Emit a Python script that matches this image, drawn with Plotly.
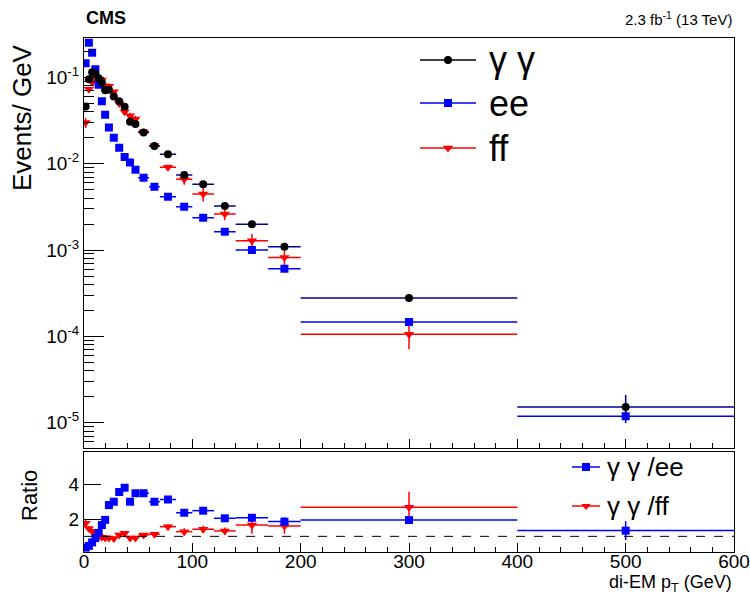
import plotly.graph_objects as go

# ---------------- data ----------------
edges = [0, 3, 6, 9, 12, 15, 18, 21, 25, 30, 35, 40, 45, 50, 60, 70, 85, 100,
         120, 140, 170, 200, 400, 600]

gg = [0.046, 0.095, 0.115, 0.110, 0.098, 0.087, 0.071, 0.072, 0.060, 0.053,
      0.0457, 0.0307, 0.0288, 0.0230, 0.0160, 0.0129, 0.0074, 0.00577,
      0.00324, 0.00199, 0.00109, 0.000278, 0.0000152]
gg_err_up = [0.001, 0.0015, 0.0015, 0.0015, 0.0015, 0.0013, 0.0012, 0.001,
             0.0009, 0.0008, 0.0008, 0.0006, 0.0006, 0.0004, 0.0003, 0.0005,
             0.0004, 0.0003, 0.00018, 0.00012, 0.00009, 0.00002, 0.0000057]
gg_err_dn = [0.001, 0.0015, 0.0015, 0.0015, 0.0015, 0.0013, 0.0012, 0.001,
             0.0009, 0.0008, 0.0008, 0.0006, 0.0006, 0.0004, 0.0003, 0.0005,
             0.0004, 0.0003, 0.00018, 0.00012, 0.00009, 0.00002, 0.0000045]

ee = [0.146, 0.252, 0.193, 0.124, 0.082, 0.053, 0.037, 0.0263, 0.0200,
      0.0153, 0.0120, 0.0103, 0.0085, 0.0069, 0.0054, 0.00415, 0.00318,
      0.00237, 0.00163, 0.00100, 0.000607, 0.000147, 0.0000119]
ee_err = [0.001, 0.001, 0.001, 0.0008, 0.0006, 0.0004, 0.0003, 0.0002,
          0.00015, 0.0001, 0.0001, 0.0001, 0.0001, 0.00006, 0.00005, 0.00004,
          0.00004, 0.00003, 0.00003, 0.00002, 0.00002, 0.000004, 0.000002]

ff = [0.030, 0.0727, 0.088, 0.092, 0.095, 0.093, 0.080, 0.079, 0.068, 0.050,
      0.040, 0.036, 0.033, 0.0235, 0.0162, 0.00908, 0.00659, 0.00446,
      0.00261, 0.00128, 0.00082, 0.000106, None]
ff_err_up = [0.004, 0.005, 0.005, 0.005, 0.005, 0.005, 0.004, 0.004, 0.003,
             0.003, 0.003, 0.003, 0.003, 0.002, 0.0015, 0.0008, 0.0009,
             0.0008, 0.0004, 0.00025, 0.00016, 0.000041, 0]
ff_err_dn = [0.004, 0.005, 0.005, 0.005, 0.005, 0.005, 0.004, 0.004, 0.003,
             0.003, 0.003, 0.003, 0.003, 0.002, 0.0015, 0.0008, 0.0009,
             0.0008, 0.0004, 0.00025, 0.00016, 0.000035, 0]

ratio_ee = [0.35, 0.45, 0.65, 0.90, 1.20, 1.65, 1.95, 2.80, 3.00, 3.55, 3.80,
            3.00, 3.48, 3.48, 3.00, 3.13, 2.36, 2.48, 2.04, 2.07, 1.85, 1.94,
            1.33]
ratio_ee_err = [0.02, 0.02, 0.03, 0.04, 0.05, 0.06, 0.07, 0.09, 0.1, 0.1, 0.1,
                0.1, 0.1, 0.1, 0.1, 0.1, 0.1, 0.12, 0.15, 0.2, 0.25, 0.15,
                0.55]

ratio_ff = [1.75, 1.45, 1.30, 1.20, 1.00, 0.95, 0.90, 0.90, 0.88, 1.08, 1.18,
            0.90, 0.90, 1.08, 1.12, 1.56, 1.27, 1.41, 1.31, 1.65, 1.60, 2.67,
            None]
ratio_ff_err_up = [0.25, 0.15, 0.1, 0.08, 0.07, 0.07, 0.07, 0.07, 0.07, 0.08,
                   0.09, 0.08, 0.08, 0.09, 0.1, 0.15, 0.2, 0.2, 0.2, 0.5, 0.45,
                   0.90, 0]
ratio_ff_err_dn = [0.25, 0.15, 0.1, 0.08, 0.07, 0.07, 0.07, 0.07, 0.07, 0.08,
                   0.09, 0.08, 0.08, 0.09, 0.1, 0.15, 0.2, 0.2, 0.2, 0.5, 0.45,
                   0.75, 0]

log_ticks = [1e-5, 1e-4, 1e-3, 1e-2, 1e-1]
log_tick_text = ["10<sup>-5</sup>", "10<sup>-4</sup>", "10<sup>-3</sup>",
                 "10<sup>-2</sup>", "10<sup>-1</sup>"]
ratio_ticks = [2, 4]

centers = [(a + b) / 2 for a, b in zip(edges[:-1], edges[1:])]
halfw = [(b - a) / 2 for a, b in zip(edges[:-1], edges[1:])]

# ---------------- styling ----------------
FONT = "Liberation Sans, Arial, Helvetica, sans-serif"
BLACK = "#000000"
NAVY = "#000099"
BLUE = "#0000ff"
RED = "#ff0000"

L, R, T, B = 84, 734, 38, 552
W, H = 750, 595


def P(x, y):
    return (x - L) / (R - L), (B - y) / (B - T)


fig = go.Figure()


def series(x, y, eup, edn, color, ecolor, symbol, size, xa, ya):
    fig.add_trace(go.Scatter(
        x=x, y=y, mode="markers", xaxis=xa, yaxis=ya, showlegend=False,
        marker=dict(symbol=symbol, size=size, color=color, line=dict(width=0)),
        error_x=dict(type="data", array=halfw, color=ecolor, thickness=1.5,
                     width=0),
        error_y=dict(type="data", array=eup, arrayminus=edn, color=ecolor,
                     thickness=1.5, width=0),
    ))


# main panel
series(centers, ff, ff_err_up, ff_err_dn, RED, RED, "triangle-down", 9, "x", "y")
series(centers, ee, ee_err, ee_err, BLUE, BLUE, "square", 8, "x", "y")
series(centers, gg, gg_err_up, gg_err_dn, BLACK, NAVY, "circle", 8, "x", "y")

# ratio panel
series(centers, ratio_ff, ratio_ff_err_up, ratio_ff_err_dn, RED, RED,
       "triangle-down", 9, "x2", "y2")
series(centers, ratio_ee, ratio_ee_err, ratio_ee_err, BLUE, BLUE, "square", 8,
       "x2", "y2")

# legend decorations (pixel-like overlay axes)
legend_main = [("γ γ", 60, BLACK, "circle", 8),
               ("ee", 103, BLUE, "square", 8),
               ("ff", 148, RED, "triangle-down", 9)]
legend_ratio = [("γ γ /ee", 467, BLUE, "square", 8),
                ("γ γ /ff", 506, RED, "triangle-down", 8)]

annotations = []
for txt, yy, col, sym, sz in legend_main:
    fig.add_trace(go.Scatter(x=[420, 476], y=[yy, yy], mode="lines",
                             line=dict(color=col, width=1.5), xaxis="x3",
                             yaxis="y3", showlegend=False, hoverinfo="skip"))
    fig.add_trace(go.Scatter(x=[448], y=[yy], mode="markers",
                             marker=dict(symbol=sym, size=sz, color=col),
                             xaxis="x3", yaxis="y3", showlegend=False,
                             hoverinfo="skip"))
    px, py = P(487, yy)
    annotations.append(dict(x=px, y=py, xref="paper", yref="paper", text=txt,
                            showarrow=False, xanchor="left", yanchor="middle",
                            font=dict(family=FONT, size=36, color="black")))
for txt, yy, col, sym, sz in legend_ratio:
    fig.add_trace(go.Scatter(x=[572, 600], y=[yy, yy], mode="lines",
                             line=dict(color=col, width=1.5), xaxis="x3",
                             yaxis="y3", showlegend=False, hoverinfo="skip"))
    fig.add_trace(go.Scatter(x=[586], y=[yy], mode="markers",
                             marker=dict(symbol=sym, size=sz, color=col),
                             xaxis="x3", yaxis="y3", showlegend=False,
                             hoverinfo="skip"))
    px, py = P(605, yy)
    annotations.append(dict(x=px, y=py, xref="paper", yref="paper", text=txt,
                            showarrow=False, xanchor="left", yanchor="middle",
                            font=dict(family=FONT, size=26, color="black")))


# other texts
def ann(x, y, text, size, xanchor="center", angle=0, bold=False):
    px, py = P(x, y)
    if bold:
        text = "<b>" + text + "</b>"
    annotations.append(dict(x=px, y=py, xref="paper", yref="paper", text=text,
                            showarrow=False, xanchor=xanchor, yanchor="middle",
                            textangle=angle,
                            font=dict(family=FONT, size=size, color="black")))


ann(84, 18, "CMS", 18, xanchor="left", bold=True)
ann(734, 19, "2.3 fb<sup>-1</sup> (13 TeV)", 15, xanchor="right")
ann(22, 118, "Events/ GeV", 26, angle=-90)
ann(30, 496, "Ratio", 22, angle=-90)
ann(734, 583, "di-EM p<sub>T</sub> (GeV)", 18, xanchor="right")

main_bottom = (B - 447.7) / (B - T)
ratio_top = (B - 452.3) / (B - T)

log_minor = [k * 10.0 ** e for e in range(-6, 0) for k in range(2, 10)]

axis_common = dict(showgrid=False, zeroline=False, showline=True,
                   linecolor="black", linewidth=1, mirror=True,
                   ticks="inside", tickcolor="black", automargin=False,
                   tickfont=dict(family=FONT, size=19, color="black"))

fig.update_layout(
    width=W, height=H,
    margin=dict(l=L, r=W - R, t=T, b=H - B, pad=0),
    paper_bgcolor="white", plot_bgcolor="rgba(0,0,0,0)",
    showlegend=False,
    annotations=annotations,
    xaxis=dict(domain=[0, 1], range=[0, 600], anchor="y", dtick=100,
               showticklabels=False, ticklen=9,
               minor=dict(dtick=20, ticks="inside", ticklen=5,
                          tickcolor="black"),
               **axis_common),
    yaxis=dict(domain=[main_bottom, 1], type="log", range=[-5.29, -0.5435],
               anchor="x", tickmode="array", tickvals=log_ticks,
               ticktext=log_tick_text, ticklen=20,
               minor=dict(tickmode="array", tickvals=log_minor,
                          ticks="inside", ticklen=10, tickcolor="black"),
               **axis_common),
    xaxis2=dict(domain=[0, 1], range=[0, 600], anchor="y2", dtick=100,
                ticklen=9, ticklabelstandoff=-8,
                minor=dict(dtick=20, ticks="inside", ticklen=5,
                           tickcolor="black"),
                **axis_common),
    yaxis2=dict(domain=[0, ratio_top], range=[0.098, 5.844], anchor="x2",
                tickmode="array", tickvals=ratio_ticks, ticklen=17,
                **axis_common),
    xaxis3=dict(domain=[0, 1], range=[L, R], anchor="y3", visible=False),
    yaxis3=dict(domain=[0, 1], range=[B, T], anchor="x3", visible=False),
    shapes=[dict(type="line", xref="x2", yref="y2", x0=0, x1=600, y0=1, y1=1,
                 line=dict(color="black", width=1, dash="dash"))],
)

fig.write_html(
    "out.html",
    config={"displayModeBar": False},
    post_script="document.body.style.margin='0px';"
                "document.body.style.padding='0px';"
                "document.documentElement.style.overflow='hidden';",
)
